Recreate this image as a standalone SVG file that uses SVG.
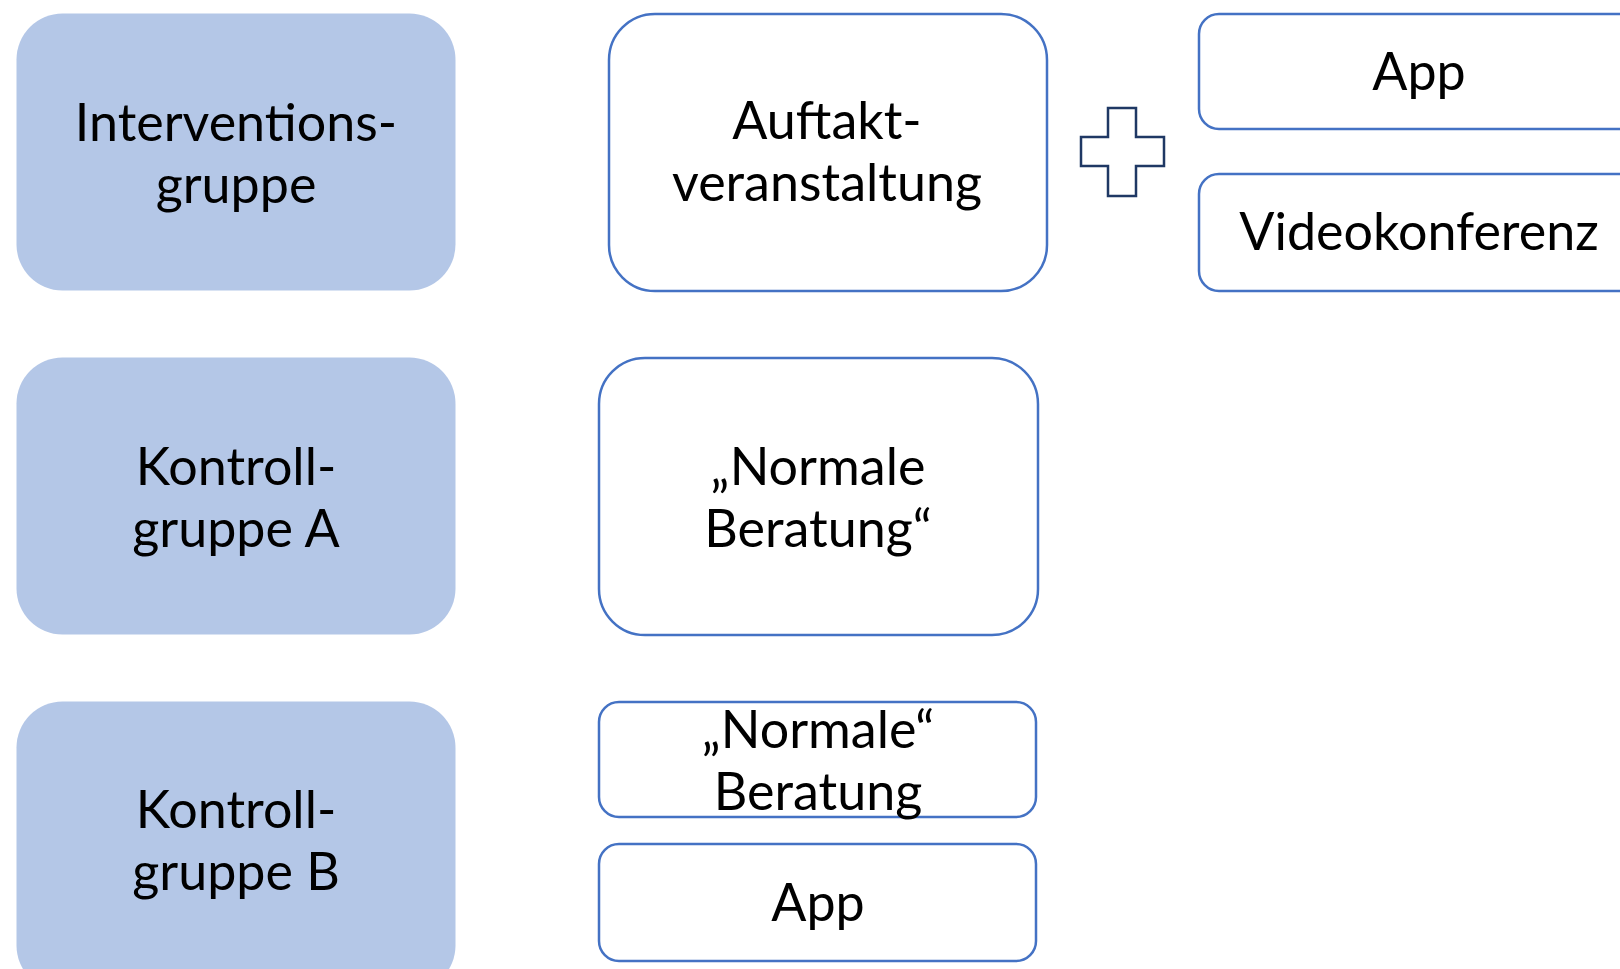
<svg xmlns="http://www.w3.org/2000/svg" width="1620" height="969" viewBox="0 0 1620 969">
<style>
.grp{fill:#B4C7E7;stroke:none}
.box{fill:#fff;stroke:#4472C4;stroke-width:2.5}
.plus{fill:#fff;stroke:#1F3864;stroke-width:2.5}
text{font-family:"Lato","Noto Sans",sans-serif;font-size:52px;fill:#000;text-anchor:middle}
</style>
<rect width="1620" height="969" fill="#fff"/>
<g id="interventionsgruppe">
<rect class="grp" x="16.5" y="13.5" width="439" height="277" rx="46"/>
<text x="236" y="141">Interventions-</text>
<text x="236" y="203">gruppe</text>
</g>
<g id="kontrollgruppe-a">
<rect class="grp" x="16.5" y="357.5" width="439" height="277" rx="46"/>
<text x="236" y="485">Kontroll-</text>
<text x="236" y="547">gruppe A</text>
</g>
<g id="kontrollgruppe-b">
<rect class="grp" x="16.5" y="701.5" width="439" height="290" rx="46"/>
<text x="236" y="828">Kontroll-</text>
<text x="236" y="890">gruppe B</text>
</g>
<g id="auftakt">
<rect class="box" x="609" y="14" width="438" height="277" rx="46"/>
<text x="827" y="139">Auftakt-</text>
<text x="827" y="201">veranstaltung</text>
</g>
<g id="plus">
<path class="plus" d="M1108,108 H1136 V137 H1164 V166 H1136 V196 H1108 V166 H1081 V137 H1108 Z"/>
</g>
<g id="app-top">
<rect class="box" x="1199" y="14" width="460" height="115" rx="20"/>
<text x="1419" y="90">App</text>
</g>
<g id="videokonferenz">
<rect class="box" x="1199" y="174" width="460" height="117" rx="20"/>
<text x="1419" y="250">Videokonferenz</text>
</g>
<g id="normale-beratung-a">
<rect class="box" x="599" y="358" width="439" height="277" rx="46"/>
<text x="818" y="485">„Normale</text>
<text x="818" y="547">Beratung“</text>
</g>
<g id="normale-beratung-b">
<rect class="box" x="599" y="702" width="437" height="115" rx="20"/>
<text x="818" y="748">„Normale“</text>
<text x="818" y="810">Beratung</text>
</g>
<g id="app-b">
<rect class="box" x="599" y="844" width="437" height="117" rx="20"/>
<text x="818" y="921">App</text>
</g>
<g id="connectors"></g>
</svg>
